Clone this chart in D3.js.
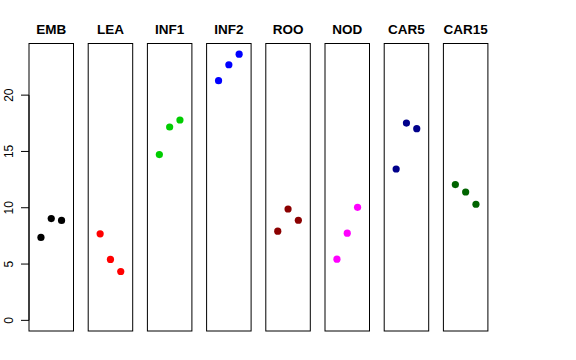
<!DOCTYPE html>
<html><head><meta charset="utf-8">
<script src="https://cdn.jsdelivr.net/npm/d3@7"></script>
<style>body{margin:0;background:#fff}svg{display:block}</style>
</head><body>
<svg id="c" width="576" height="360"></svg>
<script>
const categories = ["EMB","LEA","INF1","INF2","ROO","NOD","CAR5","CAR15"];
const colors = ["#000000","#FF0000","#00CD00","#0000FF","#8B0000","#FF00FF","#00008B","#006400"];
const EMB = [7.36, 9.04, 8.87];
const LEA = [7.68, 5.41, 4.34];
const INF1 = [14.72, 17.17, 17.79];
const INF2 = [21.28, 22.70, 23.64];
const ROO = [7.92, 9.89, 8.89];
const NOD = [5.43, 7.74, 10.04];
const CAR5 = [13.44, 17.52, 17.02];
const CAR15 = [12.06, 11.40, 10.31];
const seriesValues = [EMB, LEA, INF1, INF2, ROO, NOD, CAR5, CAR15];
const yTicks = [0, 5, 10, 15, 20];

(function () {
const svg = d3.select("#c");
const plotTop = 43.5, plotBottom = 331, panelW = 44.5, step = 59.2, left0 = 29;
const ymax = d3.max(seriesValues.flat());
const ypad = ymax * 0.04;
const y = d3.scaleLinear().domain([0 - ypad, ymax + ypad]).range([plotBottom, plotTop]);
const panelX = d3.scaleLinear().domain([0, 1]).range([left0, left0 + step]);

categories.forEach((cat, i) => {
  const x0 = panelX(i);
  const x = d3.scaleLinear().domain([-0.16, 4.16]).range([x0, x0 + panelW]);
  const g = svg.append("g");
  g.append("rect").attr("x", x0).attr("y", plotTop).attr("width", panelW).attr("height", plotBottom - plotTop)
    .attr("fill", "none").attr("stroke", "#000").attr("stroke-width", 1);
  g.selectAll("circle").data(seriesValues[i]).join("circle")
    .attr("cx", (d, j) => x(j + 1)).attr("cy", d => y(d)).attr("r", 3.6)
    .attr("fill", colors[i]);
  g.append("text").attr("x", x0 + panelW / 2).attr("y", 34).attr("text-anchor", "middle")
    .attr("font-family", "Liberation Sans, Arial, sans-serif").attr("font-weight", "bold")
    .attr("font-size", 13.5).text(cat);
});

const ax = svg.append("g").attr("transform", `translate(${left0},0)`);
ax.append("line").attr("x1", 0).attr("x2", 0).attr("y1", y(0)).attr("y2", y(20)).attr("stroke", "#000");
yTicks.forEach(t => {
  ax.append("line").attr("x1", -8).attr("x2", 0).attr("y1", y(t)).attr("y2", y(t)).attr("stroke", "#000");
  ax.append("text").attr("transform", `translate(-16.5,${y(t)}) rotate(-90)`)
    .attr("text-anchor", "middle").attr("font-family", "Liberation Sans, Arial, sans-serif")
    .attr("font-size", 12).text(t);
});
})();
</script>
</body></html>
